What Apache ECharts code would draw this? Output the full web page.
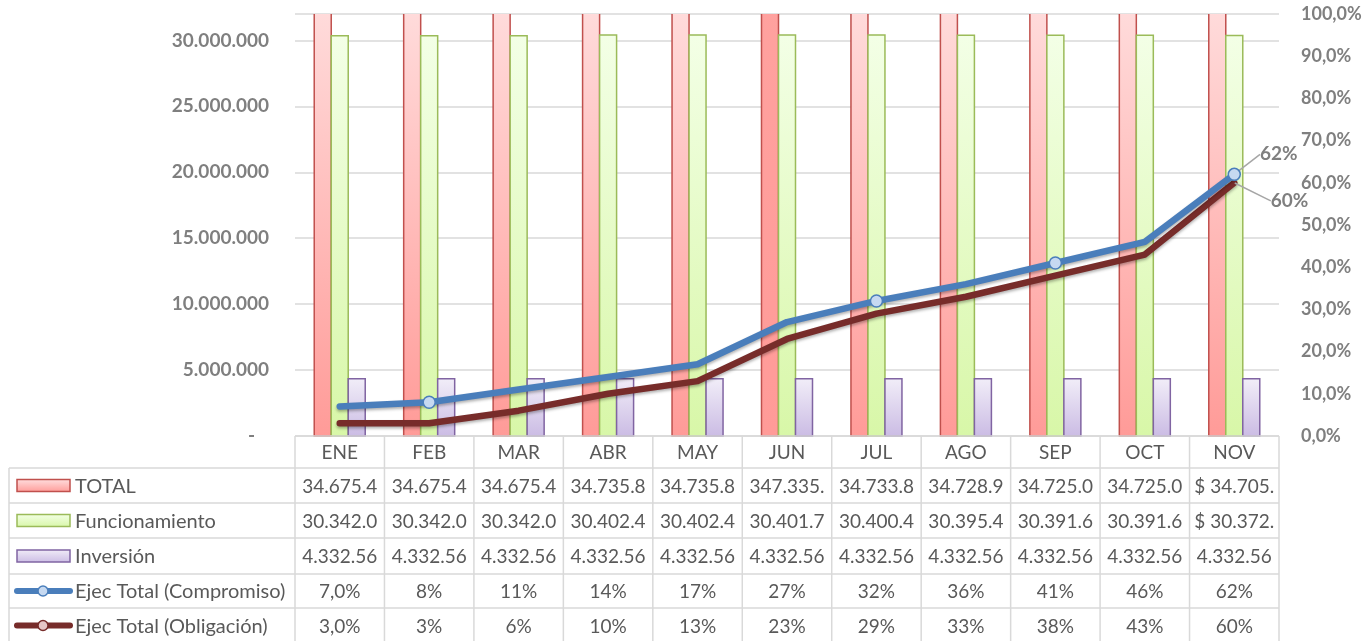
<!DOCTYPE html>
<html><head><meta charset="utf-8">
<script src="https://cdn.jsdelivr.net/npm/echarts@6/dist/echarts.min.js"></script>
<style>html,body{margin:0;padding:0;background:#fff}#c{width:1368px;height:641px}</style>
</head><body><div id="c"></div>
<script>
// ---------- data ----------
const months = ['ENE','FEB','MAR','ABR','MAY','JUN','JUL','AGO','SEP','OCT','NOV'];
const total = [34675400, 34675400, 34675400, 34735800, 34735800, 347335000, 34733800, 34728900, 34725000, 34725000, 34705000];
const funcionamiento = [30342000, 30342000, 30342000, 30402400, 30402400, 30401700, 30400400, 30395400, 30391600, 30391600, 30372000];
const inversion = [4332560, 4332560, 4332560, 4332560, 4332560, 4332560, 4332560, 4332560, 4332560, 4332560, 4332560];
const compromiso = [7, 8, 11, 14, 17, 27, 32, 36, 41, 46, 62];
const obligacion = [3, 3, 6, 10, 13, 23, 29, 33, 38, 43, 60];
const totalText = ['34.675.4','34.675.4','34.675.4','34.735.8','34.735.8','347.335.','34.733.8','34.728.9','34.725.0','34.725.0','$ 34.705.'];
const funcText = ['30.342.0','30.342.0','30.342.0','30.402.4','30.402.4','30.401.7','30.400.4','30.395.4','30.391.6','30.391.6','$ 30.372.'];
const invText = ['4.332.56','4.332.56','4.332.56','4.332.56','4.332.56','4.332.56','4.332.56','4.332.56','4.332.56','4.332.56','4.332.56'];
const compText = ['7,0%','8%','11%','14%','17%','27%','32%','36%','41%','46%','62%'];
const oblText = ['3,0%','3%','6%','10%','13%','23%','29%','33%','38%','43%','60%'];
const seriesNames = ['TOTAL','Funcionamiento','Inversión','Ejec Total (Compromiso)','Ejec Total (Obligación)'];
const compromisoMarkers = [1, 6, 8, 10];
const labelIndex = 10;

// ---------- style ----------
const FONT = 'Lato, "Open Sans", sans-serif';
const GRID = {left: 295, right: 89, top: 14, bottom: 205};
const BAR_W = 17;
const styles = [
  {stops: ['#FFE0E0', '#FF9B98'], border: '#C0504D'},
  {stops: ['#F3FFE6', '#D8F7A8'], border: '#9BBB59'},
  {stops: ['#F1EDF8', '#CBBCE4'], border: '#8064A2'}
];
const grad = (s) => new echarts.graphic.LinearGradient(0, 0, 0, 1, [{offset: 0, color: s[0]}, {offset: 1, color: s[1]}]);
const BLUE = '#4A7EBB', DRED = '#772C2A';

const chart = echarts.init(document.getElementById('c'), null, {renderer: 'canvas'});

function fmtMillions(v) {
  if (v === 0) return '-   ';
  return String(v).replace(/\B(?=(\d{3})+(?!\d))/g, '.');
}

function barRenderer(k) {
  return function (params, api) {
    const idx = api.value(0), v = api.value(1);
    const base = api.coord([idx, 0]);
    const top = api.coord([idx, v]);
    const cs = params.coordSys;
    const x = base[0] + (k - 1.5) * BAR_W;
    const yTop = Math.max(top[1], cs.y);
    const clipped = top[1] < cs.y;
    const fill = new echarts.graphic.LinearGradient(0, top[1], 0, base[1],
      [{offset: 0, color: styles[k].stops[0]}, {offset: 1, color: styles[k].stops[1]}], true);
    const pts = clipped
      ? [[x, yTop], [x, base[1]], [x + BAR_W, base[1]], [x + BAR_W, yTop]]
      : [[x, base[1]], [x, yTop], [x + BAR_W, yTop], [x + BAR_W, base[1]], [x, base[1]]];
    return {type: 'group', children: [
      {type: 'rect', shape: {x: x, y: yTop, width: BAR_W, height: base[1] - yTop},
        style: {fill: fill, shadowBlur: 3, shadowColor: 'rgba(0,0,0,0.25)', shadowOffsetX: 1, shadowOffsetY: 1}},
      {type: 'polyline', shape: {points: pts},
        style: {fill: null, stroke: styles[k].border, lineWidth: 1.5}}
    ]};
  };
}

const barSeries = [total, funcionamiento, inversion].map((d, i) => ({
  name: seriesNames[i], type: 'custom', renderItem: barRenderer(i),
  data: d.map((v, j) => [j, v]), encode: {x: 0, y: 1}, clip: false, z: 2
}));

const compData = compromiso.map((v, i) => {
  const item = {value: v, symbol: compromisoMarkers.includes(i) ? 'circle' : 'none'};
  if (i === labelIndex) item.label = {show: true};
  return item;
});
const oblData = obligacion.map((v, i) => {
  const item = {value: v, symbol: 'none'};
  if (i === labelIndex) { item.label = {show: true}; item.symbol = 'circle'; item.symbolSize = 1; }
  return item;
});

const labelStyle = {position: 'right', formatter: p => p.value + '%', color: '#7F7F7F',
  fontFamily: FONT, fontWeight: 'bold', fontSize: 19};

chart.setOption({
  animation: false,
  backgroundColor: '#fff',
  grid: GRID,
  xAxis: {type: 'category', data: months, axisLine: {show: false}, axisTick: {show: false},
    axisLabel: {show: false}, splitLine: {show: false}},
  yAxis: [
    {type: 'value', min: 0, max: 32000000, interval: 5000000,
      axisLine: {show: false}, axisTick: {show: false},
      splitLine: {lineStyle: {color: '#D9D9D9', width: 1.5}},
      axisLabel: {formatter: fmtMillions, color: '#7F7F7F', fontFamily: FONT, fontWeight: 'bold',
        fontSize: 19, margin: 26, showMaxLabel: false}},
    {type: 'value', min: 0, max: 100, interval: 10,
      axisLine: {show: false}, axisTick: {show: false}, splitLine: {show: false},
      axisLabel: {formatter: v => v.toFixed(1).replace('.', ',') + '%', color: '#7F7F7F',
        fontFamily: FONT, fontWeight: 'bold', fontSize: 18, margin: 22}}
  ],
  series: barSeries.concat([
    {name: seriesNames[3], type: 'line', yAxisIndex: 1, data: compData, symbol: 'circle', symbolSize: 12,
      showSymbol: true, lineStyle: {color: BLUE, width: 6.5, cap: 'round', join: 'round',
        shadowBlur: 3, shadowColor: 'rgba(0,0,0,0.3)', shadowOffsetY: 2},
      itemStyle: {color: '#C6D9F1', borderColor: BLUE, borderWidth: 1.5},
      label: Object.assign({show: false}, labelStyle),
      labelLine: {show: true, lineStyle: {color: '#A6A6A6', width: 1.5}},
      labelLayout: {dx: 14, dy: -20},
      z: 5},
    {name: seriesNames[4], type: 'line', yAxisIndex: 1, data: oblData, symbol: 'none',
      lineStyle: {color: DRED, width: 6.5, cap: 'round', join: 'round',
        shadowBlur: 3, shadowColor: 'rgba(0,0,0,0.3)', shadowOffsetY: 2},
      itemStyle: {color: DRED},
      label: Object.assign({show: false}, labelStyle),
      labelLine: {show: true, lineStyle: {color: '#A6A6A6', width: 1.5}},
      labelLayout: {dx: 31, dy: 18},
      z: 4}
  ])
});

// ---------- data table (graphic) ----------
function buildTable() {
  const W = 1368;
  const x0 = GRID.left, x1 = W - GRID.right;
  const colW = (x1 - x0) / months.length;
  const tableLeft = 9;
  const rowsY = [436, 468, 503, 538, 574, 608, 643];
  const lineColor = '#D9D9D9';
  const g = [];
  const hline = (xa, xb, y) => g.push({type: 'line', shape: {x1: xa, y1: y, x2: xb, y2: y},
    style: {stroke: lineColor, lineWidth: 1.5}, silent: true, z: 10});
  const vline = (x, ya, yb) => g.push({type: 'line', shape: {x1: x, y1: ya, x2: x, y2: yb},
    style: {stroke: lineColor, lineWidth: 1.5}, silent: true, z: 10});
  hline(x0, x1, rowsY[0]);
  for (let r = 1; r < rowsY.length - 1; r++) hline(tableLeft, x1, rowsY[r]);
  vline(tableLeft, rowsY[1], rowsY[6]);
  for (let i = 0; i <= months.length; i++) vline(x0 + i * colW, rowsY[0], rowsY[6]);
  const txt = (text, x, y, align, size) => g.push({type: 'text', x: x, y: y, silent: true, z: 11,
    style: {text: text, fill: '#595959', font: (size || 19) + 'px ' + FONT, align: align || 'center', verticalAlign: 'middle'}});
  const rows = [months, totalText, funcText, invText, compText, oblText];
  rows.forEach((arr, r) => {
    const cy = (rowsY[r] + rowsY[r + 1]) / 2 + 1;
    arr.forEach((t, i) => {
      const cx = chart.convertToPixel({xAxisIndex: 0}, i);
      txt(t, cx, cy);
    });
  });
  for (let k = 0; k < 5; k++) {
    const cy = (rowsY[k + 1] + rowsY[k + 2]) / 2;
    if (k < 3) {
      g.push({type: 'rect', shape: {x: 17, y: cy - 6, width: 53, height: 12}, silent: true, z: 11,
        style: {fill: grad(styles[k].stops), stroke: styles[k].border, lineWidth: 1.5}});
    } else {
      const col = k === 3 ? BLUE : DRED;
      g.push({type: 'line', shape: {x1: 17, y1: cy, x2: 70, y2: cy}, silent: true, z: 11,
        style: {stroke: col, lineWidth: 6, lineCap: 'round'}});
      g.push({type: 'circle', shape: {cx: 43, cy: cy, r: 5}, silent: true, z: 12,
        style: {fill: k === 3 ? '#C6D9F1' : '#E6C6C6', stroke: col, lineWidth: 1.5}});
    }
    txt(seriesNames[k], 75, cy + 1, 'left', 20);
  }
  chart.setOption({graphic: g});
}
buildTable();
</script>
</body></html>
